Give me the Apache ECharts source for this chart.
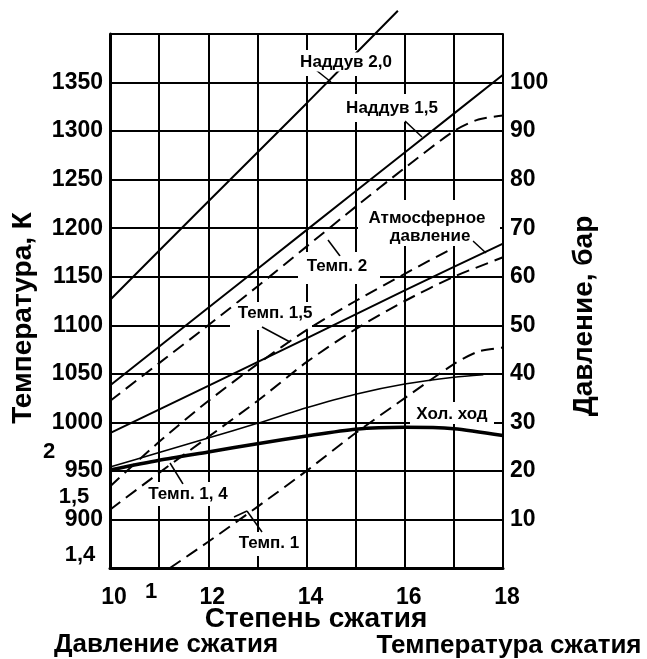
<!DOCTYPE html>
<html>
<head>
<meta charset="utf-8">
<script src="https://cdn.jsdelivr.net/npm/echarts@6/dist/echarts.min.js"></script>
<style>
  html, body { margin: 0; background: #fff; }
  #chart { width: 647px; height: 659px; }
</style>
</head>
<body>
<div id="chart"></div>
<script>
// степень сжатия (x) -> давление, бар (сплошные) / температура, К (пунктир)
const boost20X = [10, 12, 14, 15.86];
const boost20P = [55.2, 75.5, 95.7, 114.8];

const boost15X = [10, 12, 14, 16, 18, 18.37];
const boost15P = [37.6, 53.6, 69.6, 85.6, 101.6, 104.6];

const atmX = [10, 12, 14, 16, 18, 18.27];
const atmP = [27.8, 37.5, 47.3, 57.2, 66.8, 68.1];

const thinX = [10, 11, 12, 13, 14, 15, 16, 17, 17.6];
const thinP = [20.8, 23.8, 26.8, 29.8, 33.0, 35.8, 37.9, 39.3, 39.8];

const idleX = [10, 11, 12, 13, 14, 15, 16, 17, 18];
const idleP = [20.2, 22.2, 23.9, 25.6, 27.2, 28.6, 29.0, 28.7, 27.3];

const temp2X = [10, 11, 12, 13, 14, 15, 16, 17, 17.5, 18];
const temp2T = [1022, 1061, 1100, 1140, 1181, 1222, 1262, 1300, 1312, 1316];

const temp15X = [10, 11, 12, 13, 14, 15, 16, 17];
const temp15T = [934, 980, 1022, 1060, 1095, 1125, 1153, 1180];

const temp14X = [10, 11, 12, 13, 14, 15, 16, 17, 18];
const temp14T = [910, 948, 985, 1022, 1062, 1096, 1125, 1150, 1170];

const temp1X = [11.22, 12, 13, 14, 15, 16, 17, 17.5, 18];
const temp1T = [850, 877, 913, 950, 989, 1025, 1060, 1073, 1077];

const FONT = '"Liberation Sans", Arial, sans-serif';
const pairs = (xs, ys) => xs.map((x, i) => [x, ys[i]]);

function line(name, xs, ys, axis, dashed, width) {
  return {
    name,
    type: 'line',
    yAxisIndex: axis,
    data: pairs(xs, ys),
    symbol: 'none',
    smooth: 0.25,
    clip: false,
    silent: true,
    lineStyle: { color: '#000', width: width || 2, type: dashed ? [13, 7] : 'solid' },
  };
}

function label(text, x, y, size, rot) {
  return {
    type: 'text', x, y, z: 100, rotation: rot || 0,
    style: {
      text, font: `bold ${size}px ${FONT}`, fill: '#000',
      align: 'center', verticalAlign: 'middle',
      textAlign: 'center', textVerticalAlign: 'middle',
    },
  };
}

function tag(text, x, y) {
  const t = label(text, x, y, 17);
  t.style.backgroundColor = '#fff';
  t.style.padding = [1, 2];
  return t;
}

// white box under a label that breaks the grid, as in the drawing
function gap(x, y, width, height) {
  return { type: 'rect', z: 1, shape: { x, y, width, height }, style: { fill: '#fff' } };
}

function leader(x1, y1, x2, y2) {
  return { type: 'line', z: 100, shape: { x1, y1, x2, y2 }, style: { stroke: '#000', lineWidth: 1.5 } };
}

const tickLabel = { color: '#000', fontSize: 23, fontWeight: 'bold', fontFamily: FONT };

const chart = echarts.init(document.getElementById('chart'));
chart.setOption({
  animation: false,
  backgroundColor: '#fff',
  grid: { left: 110, top: 34, width: 393, height: 534, outerBoundsMode: 'none' },
  xAxis: {
    type: 'value', min: 10, max: 18, interval: 1,
    axisLine: { show: true, lineStyle: { color: '#000', width: 3 } },
    axisTick: { show: false },
    splitLine: { show: true, lineStyle: { color: '#000', width: 2 } },
    axisLabel: Object.assign({
      formatter: (v) => (v % 2 === 0 ? String(v) : ''),
      margin: 18, padding: [0, 0, 0, 8],
    }, tickLabel),
  },
  yAxis: [
    {
      type: 'value', position: 'left', min: 850, max: 1400, interval: 50,
      axisLine: { show: true, lineStyle: { color: '#000', width: 3 } },
      axisTick: { show: false },
      splitLine: { show: true, lineStyle: { color: '#000', width: 2 } },
      axisLabel: Object.assign({
        formatter: (v) => (v === 850 || v === 1400 ? '' : String(v)),
        margin: 7,
      }, tickLabel),
    },
    {
      type: 'value', position: 'right', min: 0, max: 110, interval: 10,
      axisLine: { show: true, lineStyle: { color: '#000', width: 2 } },
      axisTick: { show: false },
      splitLine: { show: false },
      axisLabel: Object.assign({
        formatter: (v) => (v === 0 || v === 110 ? '' : String(v)),
        margin: 7,
      }, tickLabel),
    },
  ],
  series: [
    line('Наддув 2,0', boost20X, boost20P, 1, false, 2),
    line('Наддув 1,5', boost15X, boost15P, 1, false, 2),
    line('Атмосферное давление', atmX, atmP, 1, false, 2),
    line('Давление', thinX, thinP, 1, false, 1.6),
    line('Хол. ход', idleX, idleP, 1, false, 3.5),
    line('Темп. 2', temp2X, temp2T, 0, true, 2),
    line('Темп. 1,5', temp15X, temp15T, 0, true, 2),
    line('Темп. 1, 4', temp14X, temp14T, 0, true, 2),
    line('Темп. 1', temp1X, temp1T, 0, true, 2),
  ],
  graphic: [
    gap(296, 50, 100, 26),
    gap(342, 94, 98, 28),
    gap(358, 200, 142, 46),
    gap(298, 252, 82, 32),
    gap(230, 302, 82, 28),
    gap(145, 482, 87, 24),
    gap(236, 532, 66, 24),
    gap(410, 402, 84, 22),

    label('Температура, К', 23, 318, 28, Math.PI / 2),
    label('Давление, бар', 584, 316, 28, Math.PI / 2),
    label('Степень сжатия', 316, 619, 28),
    label('Давление сжатия', 166, 645, 26),
    label('Температура сжатия', 509, 646, 26),
    label('2', 49, 452, 22),
    label('1,5', 74, 497, 22),
    label('1,4', 80, 555, 22),
    label('1', 151, 592, 22),

    leader(316, 70, 331, 82),
    leader(405, 121, 422, 137),
    leader(473, 241, 486, 253),
    leader(328, 240, 340, 256),
    leader(262, 327, 290, 342),
    leader(170, 463, 183, 484),
    leader(262, 532, 247, 511),
    leader(247, 511, 234, 517),

    tag('Наддув 2,0', 346, 62),
    tag('Наддув 1,5', 392, 108),
    tag('Атмосферное', 427, 218),
    tag('давление', 430, 236),
    tag('Темп. 2', 337, 266),
    tag('Темп. 1,5', 275, 313),
    tag('Темп. 1, 4', 188, 494),
    tag('Темп. 1', 269, 543),
    tag('Хол. ход', 452, 414),
  ],
});
</script>
</body>
</html>
